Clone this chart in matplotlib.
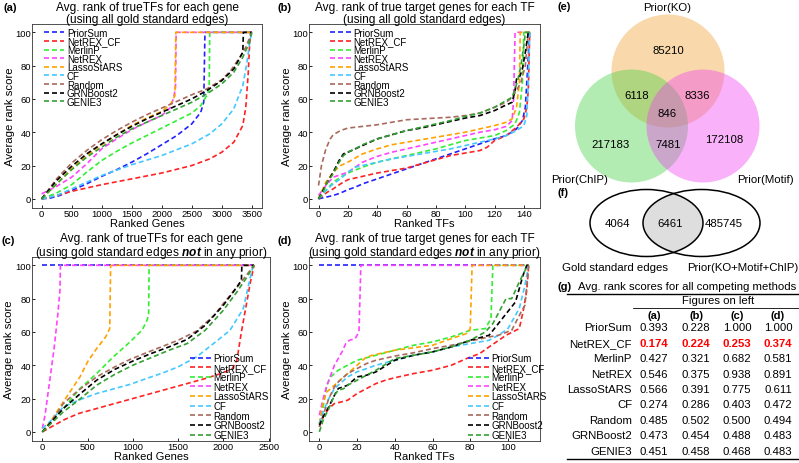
import matplotlib.pyplot as plt
from matplotlib.patches import Circle, Ellipse

plt.rcParams['font.family'] = ['Liberation Sans', 'DejaVu Sans']
plt.rcParams['mathtext.fontset'] = 'custom'
plt.rcParams['mathtext.rm'] = 'Liberation Sans'
plt.rcParams['mathtext.it'] = 'Liberation Sans:italic'
plt.rcParams['mathtext.bf'] = 'Liberation Sans:bold'
plt.rcParams['mathtext.bfit'] = 'Liberation Sans:italic:bold'

METHODS = ['PriorSum', 'NetREX_CF', 'MerlinP', 'NetREX', 'LassoStARS', 'CF', 'Random', 'GRNBoost2', 'GENIE3']
COLORS = ['#2222ff', '#ff2222', '#33ee33', '#ff44ff', '#ffa200', '#44c8ff', '#a86a5e', '#000000', '#33a033']

# ---- panel (a): avg rank of true TFs per gene, all gold edges ----
a_priorsum = [(0, 0), (150, 0.5), (300, 2), (500, 5), (750, 9), (1000, 13.5), (1250, 17.5), (1500, 22),
              (1750, 27), (2000, 32.5), (2250, 38), (2500, 45), (2650, 52), (2700, 58), (2720, 100), (3500, 100)]
a_netrex_cf = [(0, 0), (250, 2), (500, 4.5), (1000, 8.5), (1500, 12), (2000, 15.5), (2500, 20), (2800, 24),
               (3000, 28), (3200, 34), (3350, 44), (3400, 55), (3440, 75), (3460, 90), (3480, 100), (3500, 100)]
a_merlinp = [(0, 0), (250, 3.5), (500, 8.5), (750, 16), (1000, 23), (1250, 28.5), (1500, 33.5), (1750, 38),
             (2000, 42.5), (2250, 47), (2500, 51.5), (2650, 56), (2750, 62), (2790, 66), (2800, 100), (3500, 100)]
a_netrex = [(0, 3), (250, 7.5), (500, 13), (750, 21), (1000, 30), (1250, 36), (1500, 41.5), (1750, 46),
            (2000, 50), (2150, 55), (2200, 61), (2230, 67), (2240, 100), (3500, 100)]
a_lasso = [(0, 0), (250, 9), (500, 18), (750, 26), (1000, 32.5), (1250, 38.5), (1500, 44), (1750, 48.5),
           (2000, 52.5), (2150, 57), (2220, 62), (2235, 100), (3500, 100)]
a_cf = [(0, 0), (250, 2), (500, 6), (750, 10), (1000, 14), (1500, 20.5), (2000, 26), (2500, 33), (2800, 39),
        (3000, 45), (3200, 54), (3350, 68), (3420, 82), (3470, 95), (3500, 100)]
a_random = [(0, 0), (250, 12), (500, 21.5), (750, 29), (1000, 35.5), (1250, 41), (1500, 46), (1750, 50.5),
            (2000, 54.5), (2250, 58.5), (2500, 62.5), (2750, 66), (3000, 71.5), (3150, 77), (3300, 85),
            (3400, 91), (3500, 100)]
a_grnboost2 = [(0, 0), (250, 11), (500, 19.5), (750, 27), (1000, 33), (1250, 38.5), (1500, 43.5), (1750, 48),
               (2000, 52), (2250, 56), (2500, 60), (2750, 65), (3000, 71), (3200, 78), (3350, 88), (3360, 100),
               (3500, 100)]
a_genie3 = [(0, 0), (250, 9), (500, 17.5), (750, 25), (1000, 31), (1250, 37), (1500, 42), (1750, 46),
            (2000, 50), (2250, 54), (2500, 58), (2750, 63), (3000, 69), (3200, 76), (3350, 85), (3450, 93),
            (3500, 100)]

# ---- panel (b): avg rank of true target genes per TF, all gold edges ----
b_priorsum = [(0, 0), (5, 1), (10, 2), (15, 3.5), (20, 5.5), (25, 7), (30, 9), (40, 12), (50, 15), (60, 18),
              (70, 21), (80, 24), (90, 27), (100, 30), (110, 33), (120, 36), (128, 38), (135, 42), (139, 47),
              (141, 55), (142, 70), (143, 85), (144, 100)]
b_netrex_cf = [(0, 0), (3, 2), (6, 4), (10, 6), (15, 9), (20, 11.5), (30, 13.5), (40, 15.5), (50, 17),
               (60, 18.5), (70, 21), (80, 23.5), (90, 26), (100, 27.5), (110, 29), (115, 31), (120, 35),
               (128, 38), (135, 43), (140, 48), (142, 55), (143, 65), (144, 100)]
b_merlinp = [(0, 0), (5, 5), (10, 10), (15, 13), (20, 15.5), (30, 19), (40, 22), (50, 24), (60, 26), (70, 28),
             (80, 30), (90, 32.5), (100, 35), (110, 36.5), (120, 38), (128, 41), (134, 45), (137, 52),
             (139, 70), (140, 100), (144, 100)]
b_netrex = [(0, 2), (5, 8), (10, 13), (15, 14.5), (20, 16), (25, 19), (30, 22), (40, 25.5), (50, 28), (60, 30),
            (70, 32), (80, 34), (90, 36), (100, 38), (110, 40), (120, 41.5), (128, 43.5), (132, 47), (133, 60),
            (134, 100), (144, 100)]
b_lasso = [(0, 0), (5, 10), (10, 16), (15, 20), (20, 22), (30, 27), (40, 30), (50, 32.5), (60, 34), (70, 35.5),
           (80, 37), (90, 38.5), (100, 40), (110, 42), (120, 44), (128, 46), (132, 48), (135, 55), (137, 70),
           (137.5, 100), (144, 100)]
b_cf = [(0, 0), (5, 5), (10, 9), (15, 12), (20, 16), (25, 19), (30, 20), (40, 22), (50, 24), (60, 25.5),
        (70, 27), (80, 28.5), (90, 30), (100, 32), (110, 34), (120, 36), (128, 38), (135, 41), (140, 44),
        (142, 50), (143, 70), (144, 100)]
b_random = [(0, 8), (2, 20), (5, 30), (8, 36), (10, 38.5), (15, 41), (20, 42.5), (30, 43.5), (40, 44.5),
            (50, 46), (60, 47.5), (70, 48), (80, 48.5), (90, 49), (100, 50), (110, 51.5), (120, 55), (128, 58),
            (132, 61), (135, 65), (138, 70), (141, 80), (143, 100)]
b_grnboost2 = [(0, 0), (3, 5), (6, 10), (10, 16), (14, 23), (17, 27), (20, 28), (25, 30), (30, 32), (40, 36),
               (50, 38.5), (60, 41), (70, 42.5), (80, 44.5), (90, 46.5), (100, 48.5), (110, 50), (120, 53),
               (127, 56), (132, 58), (134, 65), (135, 72), (137, 73), (139, 78), (141, 88), (143, 100)]
b_genie3 = [(0, 0), (3, 4), (6, 10), (10, 15), (14, 22), (17, 26), (20, 28), (25, 30), (30, 32.5), (40, 36),
            (50, 38.5), (60, 41), (70, 43), (80, 45), (90, 47), (100, 49.5), (110, 51.5), (120, 55), (128, 59),
            (132, 61), (134, 66), (136, 72), (138, 80), (140, 92), (141, 100), (144, 100)]

# ---- panel (c): avg rank of true TFs per gene, gold edges not in any prior ----
c_priorsum = [(0, 100), (2340, 100)]
c_netrex_cf = [(0, 0), (100, 3), (250, 7.5), (400, 11), (600, 14), (800, 17), (1000, 20), (1200, 23),
               (1400, 26), (1600, 29), (1800, 32), (2000, 35.5), (2100, 38), (2150, 43), (2200, 60),
               (2250, 75), (2300, 90), (2340, 100)]
c_merlinp = [(0, 0), (100, 6), (232, 14), (416, 26), (600, 35), (784, 45), (969, 54), (1100, 61), (1150, 66),
             (1175, 70), (1180, 100), (2340, 100)]
c_netrex = [(0, 2), (30, 10), (80, 30), (130, 50), (170, 70), (195, 85), (200, 100), (2340, 100)]
c_lasso = [(0, 0), (100, 7), (232, 18), (416, 33), (500, 42), (600, 50), (700, 57), (745, 62), (755, 100),
           (2340, 100)]
c_cf = [(0, 2), (100, 7), (232, 15), (400, 19), (600, 23), (800, 26), (969, 28.5), (1150, 32), (1337, 35.5),
        (1500, 39), (1705, 45), (1926, 54.5), (2074, 61), (2221, 74), (2295, 92), (2330, 100)]
c_random = [(0, 0), (100, 6), (232, 17), (400, 25), (600, 33), (800, 39), (969, 43.5), (1150, 47.5),
            (1337, 51.5), (1500, 55), (1705, 60.5), (1900, 70), (2000, 77), (2184, 89), (2340, 100)]
c_grnboost2 = [(0, 0), (232, 14), (400, 22), (600, 31), (800, 37.5), (1000, 42.5), (1200, 47), (1400, 51),
               (1600, 55.5), (1800, 64), (2000, 76), (2150, 87), (2200, 91), (2205, 100), (2340, 100)]
c_genie3 = [(0, 0), (232, 12), (400, 19), (600, 28), (800, 34.5), (1000, 40), (1200, 44.5), (1400, 49),
            (1600, 53), (1800, 61), (2000, 73), (2150, 84), (2250, 92), (2340, 100)]

# ---- panel (d): avg rank of true target genes per TF, gold edges not in any prior ----
d_priorsum = [(0, 100), (111, 100)]
d_netrex_cf = [(0, 3), (2, 9), (5, 14), (8, 17), (10, 17.5), (15, 19), (20, 23), (25, 26), (30, 29),
               (35, 31), (40, 32.5), (50, 35), (60, 37), (70, 40), (78, 44), (85, 47), (90, 51), (99, 58),
               (106, 62), (108, 72), (110, 85), (111, 100)]
d_merlinp = [(0, 5), (2, 15), (4, 28), (6, 33), (8, 35), (10, 37), (15, 40), (20, 43), (30, 46), (40, 49),
             (50, 52), (60, 54), (70, 57), (80, 61), (88, 62), (91, 68), (92, 100), (111, 100)]
d_netrex = [(0, 10), (2, 20), (4, 28), (6, 34), (8, 40), (10, 44), (12, 48), (14, 53), (16, 55), (19, 56),
            (21, 60), (22, 100), (111, 100)]
d_lasso = [(0, 5), (2, 18), (4, 24), (6, 26), (10, 30), (15, 35), (20, 40), (25, 45), (30, 46.5), (40, 49),
           (50, 50.5), (60, 52), (70, 56), (78, 59), (80, 62), (81, 100), (111, 100)]
d_cf = [(0, 5), (2, 12), (5, 20), (8, 26), (10, 28), (15, 33), (20, 36), (25, 38), (30, 40), (40, 43),
        (50, 46), (60, 48), (70, 51), (80, 53), (90, 55), (95, 58), (100, 62), (106, 74), (109, 88), (111, 100)]
d_random = [(0, 3), (2, 10), (5, 20), (8, 27), (10, 30), (15, 35), (20, 38), (25, 41), (30, 43), (40, 45.5),
            (50, 47.5), (60, 50), (70, 52), (80, 54.5), (90, 57), (95, 58), (102, 61), (107, 72), (109, 76),
            (111, 100)]
d_grnboost2 = [(0, 4), (2, 9), (5, 15), (8, 22), (10, 26), (15, 28), (20, 33), (25, 34), (30, 36), (40, 43),
               (50, 46), (60, 48), (70, 51), (80, 55), (90, 58), (97, 68), (104, 78), (108, 94), (110, 100),
               (111, 100)]
d_genie3 = [(0, 0), (2, 7), (5, 14), (8, 22), (10, 25), (13, 26), (15, 28), (20, 31), (25, 34), (30, 37),
            (40, 44), (50, 46), (60, 48), (70, 51), (80, 55), (88, 60), (92, 65), (99, 80), (102, 80),
            (106, 90), (110, 99), (111, 100)]

# ---- panel (e): prior overlap counts ----
venn3_names = ['Prior(KO)', 'Prior(ChIP)', 'Prior(Motif)']
ko_only, chip_only, motif_only = 85210, 217183, 172108
ko_chip, ko_motif, chip_motif, ko_chip_motif = 6118, 8336, 7481, 846

# ---- panel (f): gold standard vs union of priors ----
venn2_names = ['Gold standard edges', 'Prior(KO+Motif+ChIP)']
gold_only, gold_prior, prior_only = 4064, 6461, 485745

# ---- panel (g): average rank scores ----
table_cols = ['(a)', '(b)', '(c)', '(d)']
score_a = [0.393, 0.174, 0.427, 0.546, 0.566, 0.274, 0.485, 0.473, 0.451]
score_b = [0.228, 0.224, 0.321, 0.375, 0.391, 0.286, 0.502, 0.454, 0.458]
score_c = [1.000, 0.253, 0.682, 0.938, 0.775, 0.403, 0.500, 0.488, 0.468]
score_d = [1.000, 0.374, 0.581, 0.891, 0.611, 0.472, 0.494, 0.483, 0.483]

W, H = 799, 464
fig = plt.figure(figsize=(W / 100, H / 100), dpi=100)


def pxAxes(left, top, right, bottom):
    """Add axes from pixel box"""
    return fig.add_axes([left / W, 1 - bottom / H, (right - left) / W, (bottom - top) / H])


def plotPanel(ax, curves, xlim, xticks, xlabel, title, leg_xy, leg_spacing):
    for name, color, pts in zip(METHODS, COLORS, curves):
        xs = [p[0] for p in pts]
        ys = [p[1] for p in pts]
        ax.plot(xs, ys, color=color, lw=1.2, dashes=(3.0, 1.8), label=name)
    ax.set_xlim(*xlim)
    ax.set_ylim(-5.5, 105)
    ax.set_xticks(xticks)
    ax.set_yticks([0, 20, 40, 60, 80, 100])
    ax.tick_params(direction='in', length=2.5, width=0.6, labelsize=6.8, pad=0.6)
    for s in ax.spines.values():
        s.set_linewidth(0.6)
        s.set_color('#333333')
    ax.set_xlabel(xlabel, fontsize=8.0, va='center')
    ax.xaxis.set_label_coords(0.5, -0.083)
    ax.set_ylabel('Average rank score', fontsize=8.2, va='center')
    ax.yaxis.set_label_coords(-0.095, 0.5)
    # two-line title sitting just above the frame
    ax.text(0.5, 1 + 11 / 184, title, transform=ax.transAxes, fontsize=8.6, ha='center', va='center',
            linespacing=0.98)
    ax.legend(loc='upper left', bbox_to_anchor=leg_xy, frameon=False, fontsize=7.0, borderpad=0,
              borderaxespad=0, handlelength=2.15, handletextpad=0.25, labelspacing=leg_spacing)


not_line = '(using gold standard edges $\\mathbfit{not}$ in any prior)'

ax_a = pxAxes(32, 25, 262, 209)
plotPanel(ax_a, [a_priorsum, a_netrex_cf, a_merlinp, a_netrex, a_lasso, a_cf, a_random, a_grnboost2, a_genie3],
          (-160, 3670), range(0, 3501, 500), 'Ranked Genes',
          'Avg. rank of trueTFs for each gene\n(using all gold standard edges)', (0.05, 0.98), -0.14)

ax_b = pxAxes(309, 25, 540, 209)
plotPanel(ax_b, [b_priorsum, b_netrex_cf, b_merlinp, b_netrex, b_lasso, b_cf, b_random, b_grnboost2, b_genie3],
          (-6.5, 151), range(0, 141, 20), 'Ranked TFs',
          'Avg. rank of true target genes for each TF\n(using all gold standard edges)', (0.09, 0.98), -0.14)

ax_c = pxAxes(32, 258, 270, 442)
plotPanel(ax_c, [c_priorsum, c_netrex_cf, c_merlinp, c_netrex, c_lasso, c_cf, c_random, c_grnboost2, c_genie3],
          (-114, 2516), range(0, 2501, 500), 'Ranked Genes',
          'Avg. rank of trueTFs for each gene\n' + not_line, (0.664, 0.478), -0.04)

ax_d = pxAxes(309, 258, 540, 442)
plotPanel(ax_d, [d_priorsum, d_netrex_cf, d_merlinp, d_netrex, d_lasso, d_cf, d_random, d_grnboost2, d_genie3],
          (-5.5, 117), range(0, 101, 20), 'Ranked TFs',
          'Avg. rank of true target genes for each TF\n' + not_line, (0.688, 0.478), -0.04)

for tag, x, y in [('(a)', 3, 8), ('(b)', 277, 8), ('(c)', 2, 241), ('(d)', 277, 241),
                  ('(e)', 558, 7), ('(f)', 557, 193), ('(g)', 557, 287)]:
    fig.text(x / W, 1 - y / H, tag, fontsize=8, fontweight='bold', va='center', ha='left')

# overlay in pixel units for the venn diagrams and the table
ax_r = fig.add_axes([0, 0, 1, 1])
ax_r.set_xlim(0, W)
ax_r.set_ylim(H, 0)
ax_r.axis('off')

# (e) three-set venn
for (cx, cy), col in zip([(668, 72), (631.5, 127), (703, 127)], ['#f0a030', '#40d040', '#f040f0']):
    ax_r.add_patch(Circle((cx, cy), 56.5, facecolor=col, alpha=0.4, lw=0))
ax_r.text(667.5, 8, venn3_names[0], fontsize=8.2, ha='center', va='center')
ax_r.text(580, 180, venn3_names[1], fontsize=8.2, ha='center', va='center')
ax_r.text(765, 180, venn3_names[2], fontsize=8.2, ha='center', va='center')
for val, x, y in [(ko_only, 668, 51), (ko_chip, 637, 96), (ko_motif, 697, 96), (ko_chip_motif, 667, 114),
                  (chip_only, 610, 145), (chip_motif, 668, 145), (motif_only, 724, 140)]:
    ax_r.text(x, y, str(val), fontsize=8.2, ha='center', va='center')

# (f) two-set venn
left_e = Ellipse((646.5, 224), 113, 67, facecolor='none', edgecolor='black', lw=1.1)
right_e = Ellipse((701.5, 224), 117, 67, facecolor='none', edgecolor='black', lw=1.1)
ax_r.add_patch(left_e)
ax_r.add_patch(right_e)
shade = Ellipse((646.5, 224), 113, 67, facecolor='#dedede', lw=0, zorder=0)
ax_r.add_patch(shade)
shade.set_clip_path(right_e)
for val, x in [(gold_only, 617), (gold_prior, 670), (prior_only, 724)]:
    ax_r.text(x, 224, str(val), fontsize=8.2, ha='center', va='center')
ax_r.text(615, 268, venn2_names[0], fontsize=8.2, ha='center', va='center')
ax_r.text(743, 268, venn2_names[1], fontsize=8.2, ha='center', va='center')

# (g) table
ax_r.text(578, 287, 'Avg. rank scores for all competing methods', fontsize=8.2, ha='left', va='center')
ax_r.plot([567, 799], [295, 295], color='black', lw=1.0)
ax_r.text(718, 301.5, 'Figures on left', fontsize=8.2, ha='center', va='center')
ax_r.plot([633, 799], [308.5, 308.5], color='black', lw=0.6)
col_x = [654, 696, 737, 778]
for c, x in zip(table_cols, col_x):
    ax_r.text(x, 316, c, fontsize=8, ha='center', va='center', fontweight='bold')
for i, name in enumerate(METHODS):
    y = 328.5 + i * 15.4
    hi = name == 'NetREX_CF'
    ax_r.text(632, y, name, fontsize=8.2, ha='right', va='center')
    for x, col in zip(col_x, [score_a, score_b, score_c, score_d]):
        ax_r.text(x, y, f'{col[i]:.3f}', fontsize=8.2, ha='center', va='center',
                  color='#ff0000' if hi else 'black', fontweight='bold' if hi else 'normal')
ax_r.plot([567, 799], [460, 460], color='black', lw=1.0)

fig.savefig('out.png', dpi=100)
